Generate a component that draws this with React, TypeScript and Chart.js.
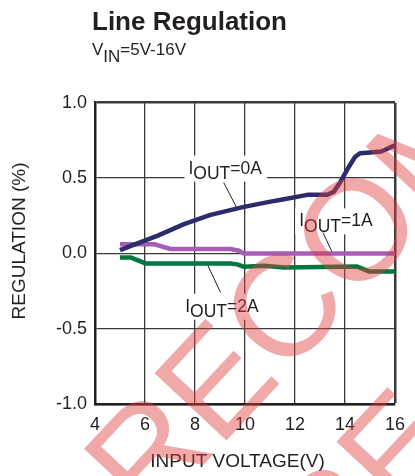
import React, { useEffect, useRef } from "react";
import { Chart, registerables } from "chart.js";

Chart.register(...registerables);

// ---- data ----
const xTickValues = [4, 6, 8, 10, 12, 14, 16];
const yTickValues = [-1.0, -0.5, 0.0, 0.5, 1.0];

const iout0X = [5.0, 5.96, 6.49, 7.56, 8.62, 9.96, 11.02, 11.56, 12.49, 13.29, 13.55, 13.8, 14.1, 14.4, 14.6, 15.0, 15.45, 16.0];
const iout0Y = [0.022, 0.084, 0.117, 0.195, 0.256, 0.309, 0.344, 0.36, 0.389, 0.39, 0.41, 0.47, 0.56, 0.64, 0.665, 0.67, 0.676, 0.718];

const iout1X = [5.0, 6.36, 7.02, 9.42, 9.76, 9.96, 16.0];
const iout1Y = [0.062, 0.062, 0.03, 0.03, 0.018, 0.0, 0.0];

const iout2X = [5.0, 5.42, 6.02, 9.42, 9.69, 9.96, 10.76, 11.56, 14.49, 14.96, 16.0];
const iout2Y = [-0.026, -0.026, -0.066, -0.066, -0.072, -0.088, -0.082, -0.093, -0.087, -0.119, -0.119];

const seriesNames = ["IOUT=0A", "IOUT=1A", "IOUT=2A"];
const labelSuffix = ["=0A", "=1A", "=2A"];
// label anchor (left / baseline) in data units
const labelX = [7.74, 12.17, 7.61];
const labelY = [0.53, 0.18, -0.386];
// leader lines in data units
const leaderX1 = [9.15, 13.12, 8.49];
const leaderY1 = [0.47, 0.139, -0.07];
const leaderX2 = [9.72, 13.52, 9.02];
const leaderY2 = [0.287, -0.004, -0.258];

const titleText = "Line Regulation";
const subtitleMain = "V";
const subtitleSub = "IN";
const subtitleRest = "=5V-16V";
const xTitle = "INPUT VOLTAGE(V)";
const yTitle = "REGULATION (%)";
const watermarkText = "RECOMMENDED";

const FONT = "'Liberation Sans', Arial, Helvetica, sans-serif";
const TEXT = "#231f20";

const zip = (xs: number[], ys: number[]) => xs.map((x, i) => ({ x, y: ys[i] }));

const overlayPlugin = {
  id: "overlay",
  beforeDatasetsDraw(chart: any) {
    const ctx = chart.ctx;
    const xs = chart.scales.x;
    const ys = chart.scales.y;
    ctx.save();
    for (let i = 0; i < seriesNames.length; i++) {
      const px = xs.getPixelForValue(labelX[i]);
      const py = ys.getPixelForValue(labelY[i]);
      ctx.font = `17.5px ${FONT}`;
      const wI = ctx.measureText("I").width;
      const wS = ctx.measureText("OUT").width;
      const wR = ctx.measureText(labelSuffix[i]).width;
      ctx.fillStyle = "#ffffff";
      ctx.fillRect(px - 4, py - 18, wI + wS + wR + 9, 26);
      // leader
      ctx.strokeStyle = TEXT;
      ctx.lineWidth = 1;
      ctx.beginPath();
      ctx.moveTo(xs.getPixelForValue(leaderX1[i]), ys.getPixelForValue(leaderY1[i]));
      ctx.lineTo(xs.getPixelForValue(leaderX2[i]), ys.getPixelForValue(leaderY2[i]));
      ctx.stroke();
      ctx.fillStyle = TEXT;
      ctx.textBaseline = "alphabetic";
      ctx.textAlign = "left";
      ctx.fillText("I", px, py);
      ctx.fillText("OUT", px + wI, py + 5.5);
      ctx.fillText(labelSuffix[i], px + wI + wS, py);
    }
    ctx.restore();
  },
  afterDraw(chart: any) {
    const ctx = chart.ctx;
    ctx.save();
    ctx.fillStyle = TEXT;
    ctx.textBaseline = "alphabetic";
    ctx.textAlign = "left";
    // title
    ctx.font = `bold 26px ${FONT}`;
    ctx.fillText(titleText, 92, 30);
    // subtitle
    ctx.font = `17px ${FONT}`;
    let x = 92;
    ctx.fillText(subtitleMain, x, 55);
    x += ctx.measureText(subtitleMain).width;
    ctx.fillText(subtitleSub, x, 61.5);
    x += ctx.measureText(subtitleSub).width;
    ctx.fillText(subtitleRest, x, 55);
    // axis titles
    ctx.font = `19px ${FONT}`;
    ctx.textAlign = "center";
    ctx.textBaseline = "middle";
    ctx.fillText(xTitle, 237.5, 462);
    ctx.save();
    ctx.translate(20, 241);
    ctx.rotate(-Math.PI / 2);
    ctx.fillText(yTitle, 0, 0);
    ctx.restore();
    // watermark
    const ang = (-47 * Math.PI) / 180;
    ctx.fillStyle = "rgba(222,62,62,0.45)";
    ctx.font = `143px ${FONT}`;
    ctx.textAlign = "left";
    ctx.textBaseline = "alphabetic";
    ctx.translate(148, 524.5);
    ctx.rotate(ang);
    ctx.fillText(watermarkText, 0, 0);
    ctx.fillText(watermarkText, 74, 180);
    ctx.restore();
  },
};

export default function App() {
  const ref = useRef<HTMLCanvasElement | null>(null);
  useEffect(() => {
    document.body.style.margin = "0";
    const canvas = ref.current!;
    const chart = new Chart(canvas, {
      type: "line",
      data: {
        datasets: [
          {
            label: seriesNames[0],
            data: zip(iout0X, iout0Y),
            borderColor: "#2c2b6c",
            borderWidth: 4.5,
            pointRadius: 0,
            tension: 0,
            borderJoinStyle: "round",
          },
          {
            label: seriesNames[1],
            data: zip(iout1X, iout1Y),
            borderColor: "#a65db5",
            borderWidth: 4.5,
            pointRadius: 0,
            tension: 0,
            borderJoinStyle: "round",
          },
          {
            label: seriesNames[2],
            data: zip(iout2X, iout2Y),
            borderColor: "#00773f",
            borderWidth: 4.5,
            pointRadius: 0,
            tension: 0,
            borderJoinStyle: "round",
          },
        ],
      },
      options: {
        responsive: false,
        animation: false,
        devicePixelRatio: 1,
        layout: { padding: { left: 0, right: 17.3, top: 102.7, bottom: 0 } },
        plugins: { legend: { display: false }, tooltip: { enabled: false }, title: { display: false } },
        scales: {
          x: {
            type: "linear",
            min: 4,
            max: 16,
            afterBuildTicks: (s: any) => {
              s.ticks = xTickValues.map((v) => ({ value: v }));
            },
            afterFit: (s: any) => {
              s.height = 71.7;
            },
            ticks: {
              color: TEXT,
              font: { family: FONT, size: 18 },
              padding: 10,
              maxRotation: 0,
              autoSkip: false,
              callback: (v: any) => String(v),
            },
            grid: {
              color: "#3a3a3a",
              lineWidth: (c: any) => (c.tick && c.tick.value === 16 ? 2.5 : 1.3),
              drawTicks: false,
            },
            border: { display: true, color: TEXT, width: 2.5 },
          },
          y: {
            type: "linear",
            min: -1,
            max: 1,
            afterBuildTicks: (s: any) => {
              s.ticks = yTickValues.map((v) => ({ value: v }));
            },
            afterFit: (s: any) => {
              s.width = 95;
            },
            ticks: {
              color: TEXT,
              font: { family: FONT, size: 18 },
              padding: 8,
              autoSkip: false,
              callback: (v: any) => Number(v).toFixed(1),
            },
            grid: {
              color: "#3a3a3a",
              lineWidth: (c: any) => (c.tick && c.tick.value === 1 ? 2.5 : 1.3),
              drawTicks: false,
            },
            border: { display: true, color: TEXT, width: 2.5 },
          },
        },
      },
      plugins: [overlayPlugin],
    });
    return () => chart.destroy();
  }, []);
  return (
    <div style={{ width: 415, height: 476 }}>
      <canvas ref={ref} width={415} height={476} style={{ display: "block" }} />
    </div>
  );
}
